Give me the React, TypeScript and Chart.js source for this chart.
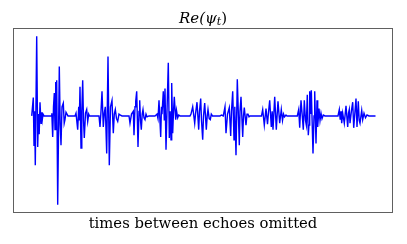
import React, { useEffect, useRef } from "react";
import { Chart, registerables } from "chart.js";

Chart.register(...registerables);

const titleMain = "Re(ψ";
const titleSub = "t";
const xLabel = "times between echoes omitted";

// time (arbitrary units) and Re(psi) amplitude, read echo by echo
const echo1: [number, number][] = [
  [17.7, 0], [19.3, 0.2], [20.0, -0.32], [20.6, 0.05], [21.3, -0.54], [22.7, 0.87], [23.7, -0.34],
  [24.5, 0.02], [25.2, -0.2], [26.0, 0.15], [27.0, -0.08], [27.6, 0.04], [28.3, -0.04], [29.0, 0.02], [30.0, 0],
];
const echo2: [number, number][] = [
  [37.0, 0], [37.8, 0.03], [38.7, -0.23], [39.5, 0.1], [40.3, 0.25], [41.0, -0.15], [41.7, 0.37], [42.2, -0.1],
  [42.7, 0.39], [43.7, -0.97], [45.3, 0.54], [46.2, -0.1], [47.0, -0.32], [48.0, 0.1], [49.3, 0.14], [50.2, -0.08],
  [51.0, -0.04], [52.0, 0.04], [53.0, 0.02], [54.0, 0],
];
const echo3: [number, number][] = [
  [61.0, 0], [62.0, 0.03], [63.7, -0.15], [64.7, 0.1], [65.3, -0.05], [66.0, 0.32], [67.0, -0.35], [67.8, 0.05],
  [68.7, 0.39], [69.5, -0.05], [70.3, -0.24], [71.5, 0.03], [72.7, 0.07], [73.7, -0.06], [74.7, 0.02], [75.5, 0],
];
const echo4: [number, number][] = [
  [85.0, 0], [86.0, -0.12], [87.0, 0.05], [88.0, 0.27], [89.3, -0.12], [90.3, 0.03], [91.3, 0.1], [92.7, -0.41],
  [94.0, 0.65], [95.3, -0.54], [96.5, 0.1], [98.0, 0.17], [99.3, -0.19], [100.3, 0.02], [101.3, 0.07], [102.5, -0.03],
  [103.7, -0.06], [105.0, 0.02], [106.0, 0.01], [108.0, 0],
];
const echo5: [number, number][] = [
  [113.3, 0], [115.0, 0.0], [116.0, -0.08], [117.5, 0.02], [119.3, 0.05], [120.0, -0.21], [121.0, 0.1], [121.7, 0.16],
  [122.7, 0.27], [124.0, -0.34], [125.0, 0.05], [125.7, 0.17], [126.5, -0.05], [127.3, -0.15], [128.2, 0.02],
  [129.0, 0.07], [130.0, -0.02], [131.0, -0.04], [132.0, 0.02], [133.0, -0.01], [135.0, 0],
];
const echo6: [number, number][] = [
  [141.0, 0], [143.0, 0.02], [144.0, -0.03], [145.0, 0.17], [146.7, -0.23], [147.5, 0.1], [148.0, 0.02], [149.3, 0.27],
  [150.3, -0.05], [151.0, 0.3], [152.0, -0.37], [153.0, 0.05], [154.3, 0.58], [155.3, -0.24], [156.2, 0.05],
  [157.0, -0.26], [157.7, 0.36], [158.7, -0.19], [159.5, 0.05], [160.3, 0.21], [161.7, -0.04], [162.5, 0.06],
  [163.7, -0.02], [164.7, 0.01], [166.0, 0],
];
const echo7: [number, number][] = [
  [176.0, 0], [177.0, 0.02], [178.7, 0.1], [180.7, -0.08], [181.5, 0.02], [183.0, 0.15], [184.7, -0.15], [185.5, 0.05],
  [186.7, 0.19], [187.5, -0.05], [188.7, -0.26], [189.5, 0.0], [190.7, 0.14], [192.3, -0.15], [193.2, 0.0],
  [194.0, 0.07], [195.2, -0.03], [196.3, -0.04], [197.3, 0.02], [198.5, 0],
];
const echo8: [number, number][] = [
  [206.0, 0], [207.5, 0.01], [209.3, 0.0], [211.0, 0.1], [212.0, -0.19], [213.5, 0.02], [215.3, 0.09], [216.7, -0.22],
  [217.5, 0.05], [218.7, 0.27], [220.0, -0.26], [220.8, 0.1], [222.0, -0.43], [223.3, 0.4], [225.3, -0.32],
  [226.0, 0.05], [227.0, 0.21], [228.7, -0.23], [229.5, 0.0], [230.3, 0.09], [232.0, -0.1], [233.0, 0.02],
  [234.0, 0.02], [235.0, -0.01], [236.0, 0],
];
const echo9: [number, number][] = [
  [247.5, 0], [248.7, 0.07], [250.3, -0.1], [252.0, 0.08], [253.5, -0.09], [254.5, 0.04], [255.7, 0.17],
  [257.3, -0.12], [258.2, 0.05], [259.0, -0.15], [260.7, 0.21], [262.3, -0.15], [263.2, 0.02], [264.0, 0.16],
  [265.7, -0.08], [267.3, 0.07], [268.5, -0.05], [269.5, 0.02], [270.5, -0.01], [272.0, 0.01], [273.0, 0],
];
const echo10: [number, number][] = [
  [283.3, 0], [284.7, 0.07], [285.7, -0.13], [287.0, 0.17], [288.5, -0.03], [289.3, -0.15], [290.3, 0.17],
  [291.5, -0.05], [292.3, -0.1], [293.3, 0.23], [294.3, -0.21], [295.0, -0.1], [295.7, 0.27], [296.5, 0.02],
  [297.3, 0.28], [299.0, -0.41], [300.0, 0.0], [300.7, 0.27], [302.0, -0.3], [303.0, 0.17], [303.7, -0.12],
  [305.0, 0.08], [306.0, -0.05], [307.0, 0.03], [308.0, -0.03], [309.3, 0.01], [311.0, 0],
];
const echo11: [number, number][] = [
  [324.0, 0], [325.3, 0.07], [326.2, -0.04], [327.0, 0.05], [327.7, -0.08], [328.7, 0.03], [330.3, -0.08],
  [332.0, 0.11], [333.7, -0.12], [334.5, 0.03], [335.3, 0.07], [336.0, -0.08], [337.5, 0.06], [338.7, 0.15],
  [339.7, -0.13], [341.0, 0.05], [342.0, 0.19], [343.0, -0.12], [344.3, 0.16], [345.2, -0.05], [346.0, -0.08],
  [347.7, 0.06], [348.7, -0.04], [350.0, 0.03], [351.5, -0.02], [353.0, 0.01], [355.0, 0], [361.5, 0],
];

const echoes = [echo1, echo2, echo3, echo4, echo5, echo6, echo7, echo8, echo9, echo10, echo11];

const X_MIN = 0;
const X_MAX = 378;
const Y_MIN = -1.05;
const Y_MAX = 0.95;

const decorPlugin = {
  id: "decor",
  afterDraw(chart: any) {
    const { ctx, chartArea } = chart;
    const { left, right, top, bottom } = chartArea;
    ctx.save();
    // frame
    ctx.strokeStyle = "#606060";
    ctx.lineWidth = 1;
    ctx.strokeRect(Math.round(left) - 0.5, Math.round(top) - 0.5, Math.round(right - left) + 1, Math.round(bottom - top) + 1);
    // title with subscript
    const cx = (left + right) / 2;
    ctx.fillStyle = "#000";
    ctx.textBaseline = "alphabetic";
    ctx.font = "italic 15px 'DejaVu Serif'";
    const mainW = ctx.measureText(titleMain).width;
    ctx.font = "italic 11px 'DejaVu Serif'";
    const subW = ctx.measureText(titleSub).width;
    ctx.font = "15px 'DejaVu Serif'";
    const closeW = ctx.measureText(")").width;
    const total = mainW + subW + closeW;
    let x = cx - total / 2;
    const base = 22.5;
    ctx.font = "italic 15px 'DejaVu Serif'";
    ctx.textAlign = "left";
    ctx.fillText(titleMain, x, base);
    x += mainW;
    ctx.font = "italic 11px 'DejaVu Serif'";
    ctx.fillText(titleSub, x, base + 2);
    x += subW;
    ctx.font = "15px 'DejaVu Serif'";
    ctx.fillText(")", x, base);
    // x label
    ctx.font = "14.8px 'DejaVu Serif'";
    ctx.textAlign = "center";
    ctx.fillText(xLabel, cx, 228);
    ctx.restore();
  },
};

export default function App() {
  const ref = useRef<HTMLCanvasElement>(null);
  useEffect(() => {
    document.body.style.margin = "0";
    const canvas = ref.current!;
    const points: { x: number; y: number }[] = [];
    echoes.forEach((e) => e.forEach(([t, a]) => points.push({ x: t, y: a })));
    const chart = new Chart(canvas, {
      type: "line",
      data: {
        datasets: [
          {
            data: points,
            borderColor: "#0000ff",
            borderWidth: 1.4,
            pointRadius: 0,
            tension: 0,
            fill: false,
          },
        ],
      },
      options: {
        animation: false,
        responsive: false,
        maintainAspectRatio: false,
        layout: { padding: { left: 14, right: 15, top: 29, bottom: 32 } },
        plugins: { legend: { display: false }, tooltip: { enabled: false }, title: { display: false } },
        scales: {
          x: { type: "linear", min: X_MIN, max: X_MAX, display: false },
          y: { type: "linear", min: Y_MIN, max: Y_MAX, display: false },
        },
      },
      plugins: [decorPlugin],
    });
    return () => chart.destroy();
  }, []);
  return (
    <div style={{ width: 407, height: 244 }}>
      <canvas ref={ref} width={407} height={244} style={{ display: "block", width: 407, height: 244 }} />
    </div>
  );
}
